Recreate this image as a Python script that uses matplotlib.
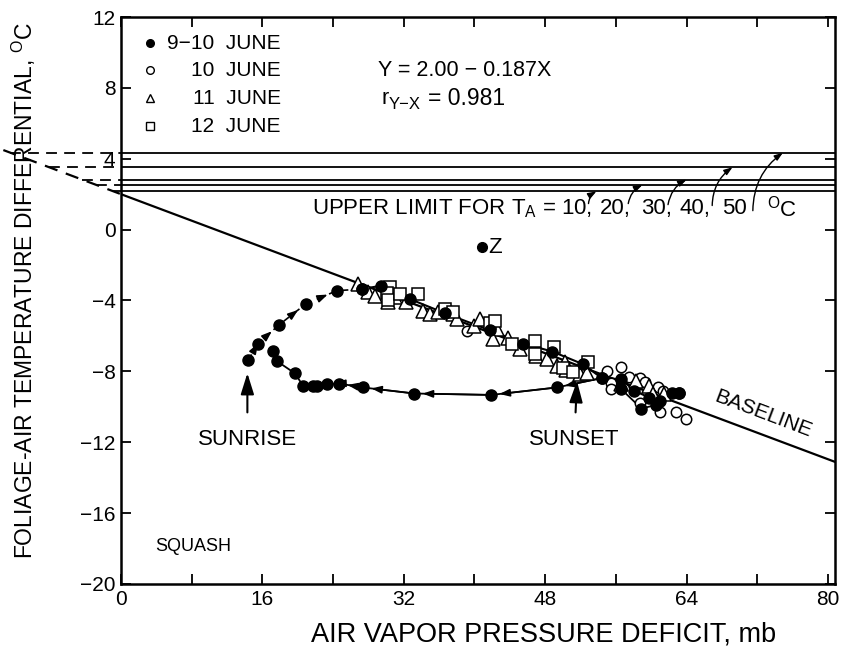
import numpy as np
import matplotlib
matplotlib.use('Agg')
import matplotlib.pyplot as plt

plt.rcParams['font.family'] = ['Liberation Sans', 'DejaVu Sans']
plt.rcParams['mathtext.fontset'] = 'custom'
plt.rcParams['mathtext.rm'] = 'Liberation Sans'

# --- data ---
baseline_a = 2.00
baseline_b = -0.187
temps = ['10,', '20,', '30,', '40,', '50']
upper_limit = [2.16, 2.52, 2.82, 3.52, 4.34]

# 9-10 June, filled circles
morning_x = [14.4, 15.5, 17.9, 20.9, 24.4, 27.3]
morning_y = [-7.37, -6.43, -5.37, -4.2, -3.45, -3.35]
day_x = [27.3, 29.4, 32.7, 36.7, 41.7, 45.5, 48.8, 52.3, 54.4, 56.6, 58.1, 59.8, 61.0, 62.3, 63.2]
day_y = [-3.35, -3.17, -3.92, -4.73, -5.67, -6.43, -6.88, -7.6, -8.38, -8.44, -9.1, -9.48, -9.67, -9.2, -9.2]
evening_x = [63.2, 60.5, 58.9, 56.6, 54.4, 49.3, 41.9, 33.2, 27.4, 24.7, 23.3, 22.2, 21.7, 20.6, 19.7, 17.7, 17.2]
evening_y = [-9.2, -9.9, -10.1, -9.0, -8.38, -8.91, -9.33, -9.25, -8.91, -8.69, -8.72, -8.82, -8.82, -8.82, -8.12, -7.44, -6.84]
point_z = (40.8, -1.0)

# 10 June, open circles
open_x = [39.1, 55.0, 55.5, 55.4, 56.6, 58.7, 59.3, 60.8, 61.3, 58.7, 61.0, 62.8, 63.9, 60.0, 57.5]
open_y = [-5.71, -8.0, -8.63, -9.0, -7.78, -8.35, -8.6, -8.91, -9.1, -9.76, -10.3, -10.3, -10.7, -9.3, -8.3]

# 11 June, triangles
tri_x = [26.8, 28.0, 28.7, 30.2, 31.0, 32.3, 34.2, 35.0, 35.9, 37.6, 38.0, 39.9, 40.6, 42.5, 42.1,
         43.8, 45.1, 47.0, 48.2, 49.3, 50.2, 50.4, 51.9, 52.7, 56.6, 58.3, 59.7, 60.2, 61.5]
tri_y = [-3.07, -3.54, -3.73, -4.11, -3.83, -4.11, -4.58, -4.77, -4.67, -4.77, -5.05, -5.43, -5.05, -5.61, -6.18,
         -6.09, -6.74, -7.12, -7.31, -7.69, -7.5, -7.93, -8.16, -8.07, -8.72, -8.54, -8.82, -9.29, -9.29]

# 12 June, squares
sq_x = [30.4, 30.1, 30.2, 31.6, 33.6, 36.7, 37.6, 41.7, 42.3, 44.3, 46.8, 46.8, 49.0, 50.0, 51.2, 52.9]
sq_y = [-3.26, -3.6, -4.0, -3.64, -3.64, -4.48, -4.66, -5.25, -5.14, -6.46, -6.27, -7.03, -6.65, -7.82, -8.01, -7.45]

fig = plt.figure(figsize=(8.48, 6.49), dpi=100)
ax = fig.add_axes([0.1427, 0.1002, 0.8420, 0.8736])
ax.set_xlim(0, 80.8)
ax.set_ylim(-20, 12)

# baseline and its dashed extension
xb = np.array([0, 80.8])
ax.plot(xb, baseline_a + baseline_b * xb, color='black', lw=1.6, zorder=2)
x_left = (upper_limit[-1] + 0.15 - baseline_a) / baseline_b
ax.plot([x_left, 0], [baseline_a + baseline_b * x_left, baseline_a], color='black', lw=1.6,
        ls=(0, (6, 4)), clip_on=False)

# upper limit lines, dashed back to the baseline
for yl in upper_limit:
    ax.axhline(yl, color='black', lw=1.3, zorder=2)
    xi = (yl - baseline_a) / baseline_b
    ax.plot([xi, 0], [yl, yl], color='black', lw=1.3, ls=(0, (6, 4)), clip_on=False)

ax.text(21.6, 1.19, r'UPPER LIMIT FOR T$_{\mathregular{A}}$ = ' + temps[0], fontsize=16, va='center', ha='left')
label_x = [None, 54.2, 58.9, 63.2, 68.0]
for lx, t in zip(label_x[1:], temps[1:]):
    ax.text(lx, 1.19, t, fontsize=16, va='center', ha='left')
ax.text(73.1, 1.19, r'$^{\mathregular{O}}$C', fontsize=16, va='center', ha='left')
tail_x = [52.9, 57.4, 61.9, 66.9, 71.5]
tail_y = [1.47, 1.47, 1.41, 1.36, 1.07]
tip_x = [53.8, 59.0, 64.0, 69.2, 74.9]
for tx, ty, hx, hy in zip(tail_x, tail_y, tip_x, upper_limit):
    ax.annotate('', xy=(hx, hy), xytext=(tx, ty),
                arrowprops=dict(arrowstyle='-|>,head_length=0.5,head_width=0.18', color='black', lw=1.0,
                                shrinkA=0, shrinkB=0, connectionstyle='arc3,rad=-0.25'))

# 9-10 June path
ax.plot(morning_x, morning_y, color='black', lw=1.2, ls=(0, (4, 4)), zorder=3)
for i in range(len(morning_x) - 2):
    x0, y0 = morning_x[i], morning_y[i]
    x1, y1 = morning_x[i + 1], morning_y[i + 1]
    ax.annotate('', xy=(x1, y1), xytext=(x0 + 0.5 * (x1 - x0), y0 + 0.5 * (y1 - y0)),
                arrowprops=dict(arrowstyle='-|>,head_length=0.6,head_width=0.22', color='black', lw=1.2,
                                shrinkA=0, shrinkB=7))
ax.plot(day_x, day_y, color='black', lw=1.5, zorder=3)
ax.plot(evening_x, evening_y, color='black', lw=1.3, zorder=3)
for i in range(3, 10):
    x0, y0 = evening_x[i], evening_y[i]
    x1, y1 = evening_x[i + 1], evening_y[i + 1]
    ax.annotate('', xy=(x1, y1), xytext=(x0, y0),
                arrowprops=dict(arrowstyle='-|>,head_length=0.6,head_width=0.22', color='black', lw=1.2,
                                shrinkA=0, shrinkB=6))

mk = dict(color='black', ls='none', zorder=5)
ax.plot(open_x, open_y, marker='o', ms=7.5, mfc='white', mec='black', mew=1.1, **mk)
ax.plot(tri_x, tri_y, marker='^', ms=10, mfc='white', mec='black', mew=1.1, **mk)
ax.plot(sq_x, sq_y, marker='s', ms=8.5, mfc='white', mec='black', mew=1.1, **mk)
ax.plot(morning_x + day_x + evening_x, morning_y + day_y + evening_y, marker='o', ms=8, mfc='black', **mk)
ax.plot([point_z[0]], [point_z[1]], marker='o', ms=7, mfc='black', **mk)
ax.text(point_z[0] + 0.8, point_z[1], 'Z', fontsize=16, va='center', ha='left')

# legend drawn by hand
leg_labels = ['9\u221210  JUNE', '10  JUNE', '11  JUNE', '12  JUNE']
leg_markers = ['o', 'o', '^', 's']
leg_fill = ['black', 'white', 'white', 'white']
leg_y = [10.51, 8.99, 7.41, 5.83]
for lab, m, fc, ly in zip(leg_labels, leg_markers, leg_fill, leg_y):
    ax.plot([3.3], [ly], marker=m, ms=5.5, mfc=fc, mec='black', mew=1.0, ls='none')
    ax.text(18.1, ly, lab, fontsize=15, va='center', ha='right')

# regression text
ax.text(29.1, leg_y[1], 'Y = 2.00 \u2212 0.187X', fontsize=15.5, va='center', ha='left')
ax.text(29.5, leg_y[2], 'r', fontsize=15.5, va='center', ha='left')
ax.text(30.3, leg_y[2] - 0.35, 'Y\u2212X', fontsize=12, va='center', ha='left')
ax.text(34.7, leg_y[2], '= 0.981', fontsize=16.5, va='center', ha='left')

# sunrise / sunset
ax.annotate('SUNRISE', xy=(14.3, -8.1), xytext=(14.3, -11.85), fontsize=16, ha='center', va='center',
            arrowprops=dict(arrowstyle='-|>,head_length=0.8,head_width=0.25', color='black', lw=1.5,
                            shrinkA=10, shrinkB=0))
ax.annotate('SUNSET', xy=(51.6, -8.55), xytext=(51.3, -11.85), fontsize=16, ha='center', va='center',
            arrowprops=dict(arrowstyle='-|>,head_length=0.8,head_width=0.25', color='black', lw=1.5,
                            shrinkA=10, shrinkB=0))

ax.text(72.7, -10.4, 'BASELINE', fontsize=15, rotation=-20.7, ha='center', va='center',
        rotation_mode='anchor')
ax.text(3.9, -17.9, 'SQUASH', fontsize=13, ha='left', va='center')

ax.set_xticks(np.arange(0, 81, 8))
ax.set_xticklabels([str(v) if v % 16 == 0 else '' for v in range(0, 81, 8)])
ax.set_yticks(np.arange(-20, 13, 4))
ax.tick_params(direction='in', length=7, width=1.3, top=True, right=True, labelsize=15, pad=4)
for s in ax.spines.values():
    s.set_linewidth(1.8)

ax.set_xlabel('AIR VAPOR PRESSURE DEFICIT, mb', fontsize=19.5)
ax.xaxis.set_label_coords(0.592, -0.066)
ax.set_ylabel(r'FOLIAGE-AIR TEMPERATURE DIFFERENTIAL, $^{\mathregular{O}}$C', fontsize=16.5)
ax.yaxis.set_label_coords(-0.116, 0.518)

fig.savefig('out.png', dpi=100)
